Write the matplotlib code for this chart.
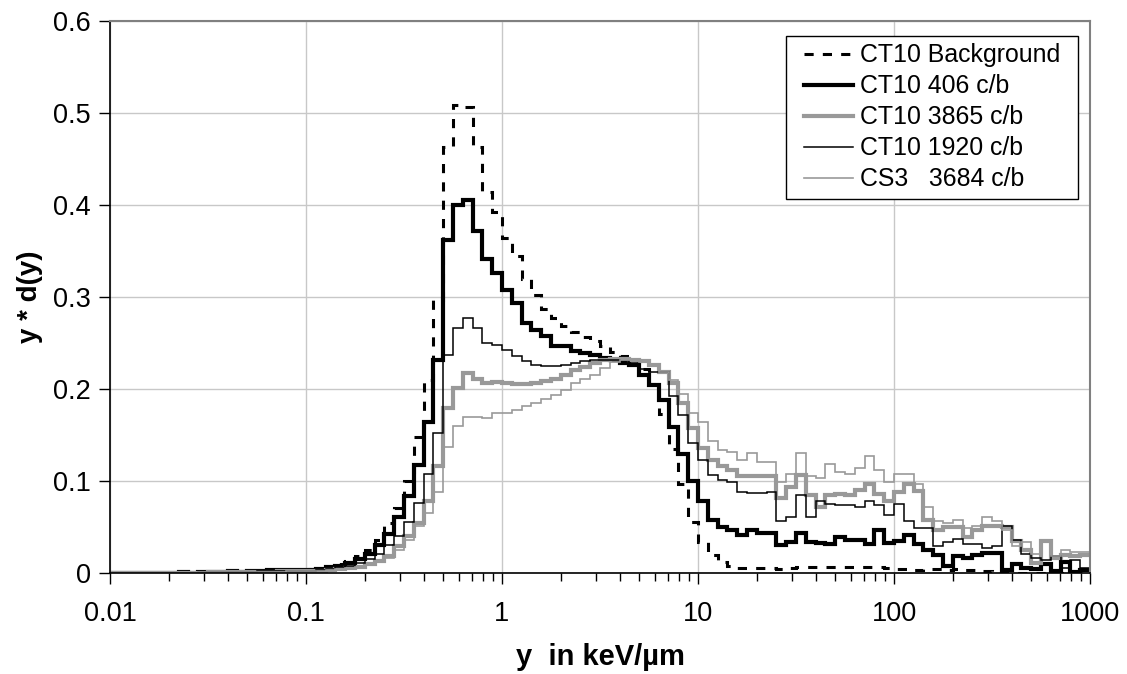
import numpy as np
import matplotlib
matplotlib.use("Agg")
import matplotlib.pyplot as plt
import matplotlib.ticker as mticker
from matplotlib.patches import Rectangle

plt.rcParams["font.family"] = ["Liberation Sans", "DejaVu Sans"]

# ── Data: lineal-energy spectra, 20 bins per decade from 0.01 to 1000 keV/um ──
BIN_EDGES = np.logspace(-2, 3, 101)

ct10_background = [
    0.000, 0.000, 0.000, 0.000, 0.000, 0.000, 0.000, 0.000, 0.000, 0.000,
    0.001, 0.001, 0.001, 0.001, 0.001, 0.002, 0.002, 0.002, 0.002, 0.003,
    0.004, 0.005, 0.007, 0.010, 0.013, 0.018, 0.025, 0.036, 0.054, 0.071,
    0.100, 0.148, 0.210, 0.297, 0.463, 0.509, 0.506, 0.463, 0.414, 0.392,
    0.364, 0.345, 0.320, 0.302, 0.287, 0.277, 0.268, 0.262, 0.256, 0.252,
    0.247, 0.240, 0.236, 0.232, 0.222, 0.205, 0.173, 0.135, 0.097, 0.055,
    0.034, 0.020, 0.012, 0.008, 0.005, 0.005, 0.005, 0.005, 0.004, 0.005,
    0.006, 0.006, 0.006, 0.006, 0.007, 0.006, 0.006, 0.007, 0.006, 0.005,
    0.004, 0.004, 0.003, 0.004, 0.004, 0.003, 0.004, 0.003, 0.003, 0.002,
    0.000, 0.000, 0.000, 0.000, 0.000, 0.000, 0.000, 0.000, 0.000, 0.000,
]

ct10_406 = [
    0.000, 0.000, 0.000, 0.000, 0.000, 0.000, 0.000, 0.001, 0.000, 0.001,
    0.001, 0.001, 0.002, 0.001, 0.002, 0.002, 0.003, 0.003, 0.003, 0.003,
    0.003, 0.004, 0.006, 0.008, 0.011, 0.015, 0.021, 0.030, 0.042, 0.061,
    0.084, 0.117, 0.164, 0.232, 0.362, 0.400, 0.405, 0.372, 0.341, 0.326,
    0.308, 0.293, 0.272, 0.264, 0.258, 0.247, 0.247, 0.241, 0.239, 0.237,
    0.234, 0.232, 0.228, 0.226, 0.215, 0.204, 0.188, 0.159, 0.129, 0.100,
    0.078, 0.058, 0.050, 0.047, 0.041, 0.047, 0.043, 0.043, 0.030, 0.034,
    0.043, 0.034, 0.033, 0.032, 0.039, 0.036, 0.036, 0.031, 0.047, 0.033,
    0.035, 0.041, 0.032, 0.025, 0.020, 0.008, 0.018, 0.016, 0.020, 0.022,
    0.022, 0.003, 0.010, 0.005, 0.004, 0.010, 0.002, 0.012, 0.001, 0.003,
]

ct10_3865 = [
    0.000, 0.000, 0.000, 0.000, 0.000, 0.000, 0.000, 0.000, 0.000, 0.000,
    0.001, 0.001, 0.001, 0.001, 0.001, 0.001, 0.001, 0.002, 0.002, 0.002,
    0.002, 0.002, 0.003, 0.004, 0.005, 0.007, 0.010, 0.013, 0.018, 0.029,
    0.040, 0.054, 0.078, 0.116, 0.179, 0.201, 0.217, 0.211, 0.206, 0.208,
    0.206, 0.205, 0.205, 0.206, 0.209, 0.211, 0.215, 0.221, 0.224, 0.228,
    0.231, 0.233, 0.233, 0.232, 0.230, 0.226, 0.219, 0.206, 0.185, 0.158,
    0.136, 0.123, 0.116, 0.112, 0.105, 0.105, 0.105, 0.105, 0.081, 0.093,
    0.107, 0.085, 0.072, 0.085, 0.086, 0.085, 0.090, 0.097, 0.086, 0.078,
    0.088, 0.097, 0.089, 0.058, 0.047, 0.050, 0.050, 0.039, 0.047, 0.051,
    0.051, 0.050, 0.035, 0.025, 0.011, 0.035, 0.016, 0.020, 0.019, 0.020,
]

ct10_1920 = [
    0.000, 0.000, 0.000, 0.000, 0.000, 0.000, 0.000, 0.000, 0.000, 0.001,
    0.001, 0.001, 0.001, 0.001, 0.001, 0.002, 0.002, 0.002, 0.002, 0.002,
    0.002, 0.003, 0.004, 0.006, 0.008, 0.011, 0.015, 0.021, 0.030, 0.040,
    0.055, 0.076, 0.108, 0.152, 0.237, 0.266, 0.277, 0.266, 0.250, 0.248,
    0.242, 0.236, 0.230, 0.226, 0.225, 0.225, 0.226, 0.228, 0.230, 0.231,
    0.232, 0.232, 0.230, 0.228, 0.222, 0.218, 0.218, 0.192, 0.172, 0.141,
    0.123, 0.107, 0.101, 0.099, 0.088, 0.087, 0.087, 0.088, 0.056, 0.061,
    0.085, 0.061, 0.078, 0.075, 0.074, 0.074, 0.072, 0.078, 0.074, 0.063,
    0.075, 0.056, 0.049, 0.049, 0.029, 0.034, 0.037, 0.032, 0.032, 0.027,
    0.029, 0.051, 0.036, 0.021, 0.016, 0.014, 0.019, 0.005, 0.014, 0.005,
]

cs3_3684 = [
    0.001, 0.001, 0.001, 0.001, 0.001, 0.001, 0.001, 0.001, 0.001, 0.001,
    0.001, 0.001, 0.001, 0.001, 0.001, 0.001, 0.001, 0.001, 0.002, 0.002,
    0.002, 0.002, 0.003, 0.004, 0.005, 0.007, 0.009, 0.012, 0.016, 0.025,
    0.036, 0.051, 0.065, 0.088, 0.137, 0.160, 0.170, 0.170, 0.168, 0.174,
    0.174, 0.177, 0.181, 0.185, 0.189, 0.193, 0.199, 0.207, 0.211, 0.215,
    0.223, 0.229, 0.231, 0.232, 0.229, 0.225, 0.219, 0.210, 0.195, 0.174,
    0.164, 0.143, 0.134, 0.132, 0.123, 0.130, 0.121, 0.121, 0.099, 0.108,
    0.130, 0.105, 0.103, 0.119, 0.110, 0.108, 0.114, 0.127, 0.112, 0.099,
    0.108, 0.108, 0.097, 0.072, 0.056, 0.054, 0.058, 0.049, 0.051, 0.061,
    0.056, 0.047, 0.029, 0.034, 0.021, 0.035, 0.018, 0.025, 0.023, 0.023,
]

SERIES = [
    ("CT10 Background", ct10_background, dict(color="black", lw=2.2, ls=(0, (3, 3)))),
    ("CT10 406 c/b",    ct10_406,        dict(color="black", lw=3.0)),
    ("CT10 3865 c/b",   ct10_3865,       dict(color="#999999", lw=3.0)),
    ("CT10 1920 c/b",   ct10_1920,       dict(color="black", lw=1.1)),
    ("CS3   3684 c/b",  cs3_3684,        dict(color="#999999", lw=1.2)),
]

# ── Plot ──────────────────────────────────────────────────────────────────────
fig = plt.figure(figsize=(11.27, 6.74), dpi=100)
ax = fig.add_axes([110 / 1127, 1 - 573 / 674, 980 / 1127, 552 / 674])

for label, vals, style in SERIES:
    ax.stairs(vals, BIN_EDGES, baseline=None, label=label, **style)

ax.set_xscale("log")
ax.set_xlim(0.01, 1000)
ax.set_ylim(0, 0.6)
ax.set_yticks(np.arange(0, 0.61, 0.1))
ax.yaxis.set_major_formatter(mticker.FuncFormatter(lambda v, p: "0" if v == 0 else f"{v:.1f}"))
ax.xaxis.set_major_locator(mticker.LogLocator(base=10, numticks=10))
ax.xaxis.set_major_formatter(mticker.FuncFormatter(lambda v, p: f"{v:g}"))
ax.xaxis.set_minor_locator(mticker.LogLocator(base=10, subs=np.arange(2, 10), numticks=20))
ax.xaxis.set_minor_formatter(mticker.NullFormatter())

ax.grid(which="major", color="#c8c8c8", linewidth=1.0)
ax.set_axisbelow(True)
ax.tick_params(axis="both", which="major", direction="out", length=8, width=1,
               labelsize=19.5, color="black")
ax.tick_params(axis="x", which="major", pad=12)
ax.tick_params(axis="y", which="major", pad=6)
ax.tick_params(axis="x", which="minor", direction="out", length=6, width=1, color="black")

for side in ("top", "right"):
    ax.spines[side].set_color("#808080")
    ax.spines[side].set_linewidth(1.5)
for side in ("left", "bottom"):
    ax.spines[side].set_color("black")
    ax.spines[side].set_linewidth(1.2)

ax.set_ylabel("y * d(y)", fontsize=20, fontweight="bold")
ax.yaxis.label.set_va("center")
ax.yaxis.set_label_coords((30 - 110) / 980, 0.5)
ax.set_xlabel("y  in keV/\u00b5m", fontsize=21, fontweight="bold")
ax.xaxis.label.set_va("baseline")
ax.xaxis.set_label_coords(0.5, (9 - 101) / 552)

# legend drawn at figure level so a wider frame can sit under it
handles, labels = ax.get_legend_handles_labels()
leg = fig.legend(handles, labels, loc="upper right",
                 bbox_to_anchor=(1068 / 1127, 1 - 36 / 674), borderaxespad=0,
                 fontsize=17.9, frameon=False, handlelength=2.0,
                 handletextpad=0.28, labelspacing=0.28, borderpad=0.3)
leg.set_zorder(5)
fig.canvas.draw()
bb = leg.get_window_extent().transformed(fig.transFigure.inverted())
padx = 10 / 1127
fig.add_artist(Rectangle((bb.x0 - padx, bb.y0), bb.width + 2 * padx, bb.height,
                         transform=fig.transFigure, facecolor="white",
                         edgecolor="black", linewidth=1.0, zorder=4.9))

fig.savefig("out.png", dpi=100)
